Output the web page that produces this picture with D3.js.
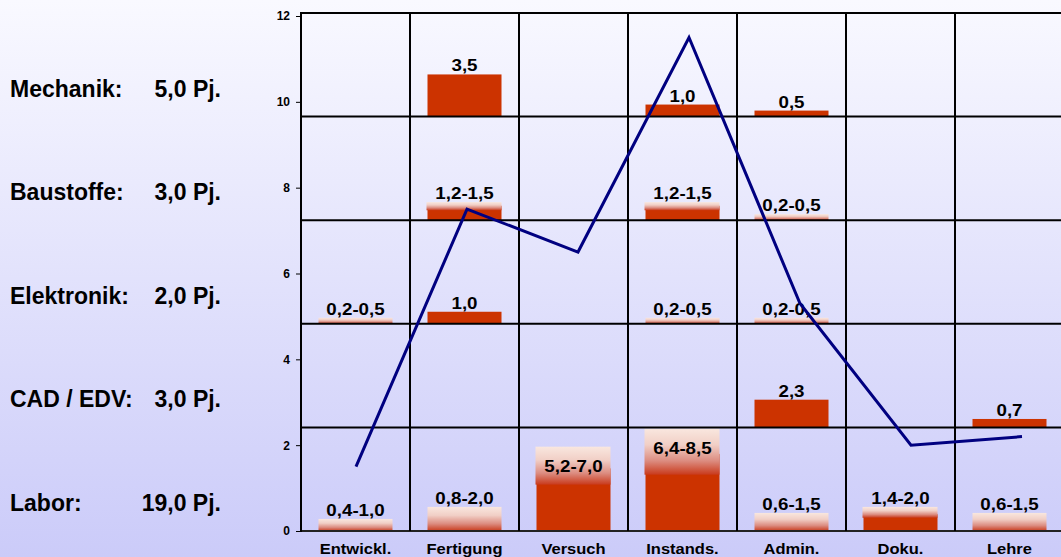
<!DOCTYPE html>
<html>
<head>
<meta charset="utf-8">
<script src="https://cdn.jsdelivr.net/npm/d3@7"></script>
<style>
  html, body { margin: 0; padding: 0; overflow: hidden; }
  svg { display: block; font-family: "Liberation Sans", Arial, sans-serif; font-weight: bold; }
</style>
</head>
<body>
<svg id="chart" width="1061" height="557"></svg>
<script>
// Departments (columns) and work areas (rows)
const categories = ["Entwickl.", "Fertigung", "Versuch", "Instands.", "Admin.", "Doku.", "Lehre"];
const areas = ["Mechanik:", "Baustoffe:", "Elektronik:", "CAD / EDV:", "Labor:"];
const areaTotals = ["5,0 Pj.", "3,0 Pj.", "2,0 Pj.", "3,0 Pj.", "19,0 Pj."];

// Personnel years per department, [low, high]; single values have low == high
const mechanik   = [null, [3.5, 3.5], null, [1.0, 1.0], [0.5, 0.5], null, null];
const baustoffe  = [null, [1.2, 1.5], null, [1.2, 1.5], [0.2, 0.5], null, null];
const elektronik = [[0.2, 0.5], [1.0, 1.0], null, [0.2, 0.5], [0.2, 0.5], null, null];
const cadEdv     = [null, null, null, null, [2.3, 2.3], null, [0.7, 0.7]];
const labor      = [[0.4, 1.0], [0.8, 2.0], [5.2, 7.0], [6.4, 8.5], [0.6, 1.5], [1.4, 2.0], [0.6, 1.5]];

// Total per department (line)
const totals = [1.5, 7.5, 6.5, 11.5, 5.3, 2.0, 2.2];
const yTicks = [0, 2, 4, 6, 8, 10, 12];

const W = 1061, H = 557;
const plot = { left: 301, right: 1064, top: 13, bottom: 531 };
const svg = d3.select("#chart");
const defs = svg.append("defs");

// Background: pale lavender gradient
const bg = defs.append("linearGradient").attr("id", "bg").attr("x1", 0).attr("y1", 0).attr("x2", 0).attr("y2", 1);
bg.append("stop").attr("offset", 0).attr("stop-color", "#f9f9ff");
bg.append("stop").attr("offset", 1).attr("stop-color", "#cbcbf9");
svg.append("rect").attr("width", W).attr("height", H).attr("fill", "url(#bg)");

// Fade used for range bars: pale at the top, red at the bottom
const fade = defs.append("linearGradient").attr("id", "fade").attr("x1", 0).attr("y1", 0).attr("x2", 0).attr("y2", 1);
[[0, "#f9e7df"], [0.35, "#f1cfc6"], [0.7, "#dc8c80"], [1, "#c93a1c"]].forEach(([o, c]) =>
  fade.append("stop").attr("offset", o).attr("stop-color", c));

const red = "#cc3300";

// Scales
const x = d3.scaleBand().domain(categories).range([plot.left, plot.right]);
const row = d3.scaleBand().domain(areas).range([plot.top, plot.bottom]);
const y = d3.scaleLinear().domain([0, 12]).range([plot.bottom, 16]);
const h = d3.scaleLinear().domain([0, 8.6]).range([0, row.bandwidth()]);
const lineX = d3.scalePoint().domain(categories).range([356, 1022]);

const fmt = v => v.toFixed(1).replace(".", ",");
const barW = 74;

// Stretch a text element horizontally
function stretch(sel, k) {
  sel.each(function () {
    const len = this.getComputedTextLength();
    d3.select(this).attr("textLength", len * k).attr("lengthAdjust", "spacingAndGlyphs");
  });
}

// Flatten the cells
const rowsData = [mechanik, baustoffe, elektronik, cadEdv, labor];
const cells = [];
rowsData.forEach((vals, r) => vals.forEach((v, c) => {
  if (v) cells.push({ area: areas[r], cat: categories[c], lo: v[0], hi: v[1] });
}));

const gBars = svg.append("g");
cells.forEach(d => {
  const base = row(d.area) + row.bandwidth();
  const x0 = x(d.cat) + (x.bandwidth() - barW) / 2;
  const topY = base - h(d.hi);
  if (d.lo === d.hi) {
    gBars.append("rect").attr("x", x0).attr("y", topY).attr("width", barW).attr("height", h(d.hi)).attr("fill", red);
  } else if (d.lo / d.hi >= 0.5) {
    // solid core up to the lower bound, faded cap over the upper part
    gBars.append("rect").attr("x", x0).attr("y", base - h(d.lo)).attr("width", barW).attr("height", h(d.lo)).attr("fill", red);
    gBars.append("rect").attr("x", x0 - 1).attr("y", topY).attr("width", barW + 1).attr("height", h(d.hi) * 0.45).attr("fill", "url(#fade)");
  } else {
    gBars.append("rect").attr("x", x0).attr("y", topY).attr("width", barW).attr("height", h(d.hi)).attr("fill", "url(#fade)");
  }
});

// Grid: row and column dividers
const gGrid = svg.append("g").attr("stroke", "#000").attr("stroke-width", 2);
const rowLines = areas.map(a => row(a)).concat([plot.bottom]);
rowLines.forEach((ly, i) => gGrid.append("line")
  .attr("x1", plot.left).attr("x2", i === rowLines.length - 1 ? W : plot.right)
  .attr("y1", ly).attr("y2", ly)
  .attr("stroke", i === rowLines.length - 1 ? "#222" : "#000"));
categories.slice(1).forEach(c => gGrid.append("line")
  .attr("x1", x(c)).attr("x2", x(c)).attr("y1", plot.top).attr("y2", plot.bottom));

// Value labels
const gLab = svg.append("g").attr("font-size", 16).attr("fill", "#000").attr("text-anchor", "middle");
cells.forEach(d => {
  const base = row(d.area) + row.bandwidth();
  const topY = base - h(d.hi);
  const label = d.lo === d.hi ? fmt(d.hi) : fmt(d.lo) + "-" + fmt(d.hi);
  const inside = h(d.hi) > 60;
  const t = gLab.append("text")
    .attr("x", x(d.cat) + x.bandwidth() / 2)
    .attr("y", inside ? topY + 25 : topY - 3)
    .text(label);
  stretch(t, 1.17);
});

// Total line
svg.append("path")
  .datum(totals)
  .attr("fill", "none")
  .attr("stroke", "#000080")
  .attr("stroke-width", 3)
  .attr("d", d3.line().x((d, i) => lineX(categories[i])).y(d => y(d)));

// Y axis
const yAxis = svg.append("g")
  .attr("transform", `translate(${plot.left},0)`)
  .call(d3.axisLeft(y).tickValues(yTicks).tickSize(5).tickPadding(6).tickFormat(d3.format("d")));
yAxis.select(".domain").remove();
yAxis.selectAll("text").attr("font-size", 12).attr("font-weight", "bold").attr("fill", "#000")
  .attr("font-family", "Liberation Sans, Arial, sans-serif");
yAxis.selectAll("line").attr("stroke", "#000");
svg.append("line").attr("x1", plot.left).attr("x2", plot.left).attr("y1", plot.top - 1).attr("y2", plot.bottom + 1)
  .attr("stroke", "#000").attr("stroke-width", 2);

// Category labels
const gCat = svg.append("g").attr("font-size", 15).attr("text-anchor", "middle").attr("fill", "#000");
categories.forEach(c => {
  const t = gCat.append("text").attr("x", x(c) + x.bandwidth() / 2).attr("y", 554).text(c);
  stretch(t, 1.1);
});

// Area names and totals on the left
const gArea = svg.append("g").attr("font-size", 23).attr("fill", "#000");
areas.forEach((a, i) => {
  const by = row(a) + row.bandwidth() - 20;
  gArea.append("text").attr("x", 10).attr("y", by).text(a);
  gArea.append("text").attr("x", 221).attr("y", by).attr("text-anchor", "end").text(areaTotals[i]);
});
</script>
</body>
</html>
